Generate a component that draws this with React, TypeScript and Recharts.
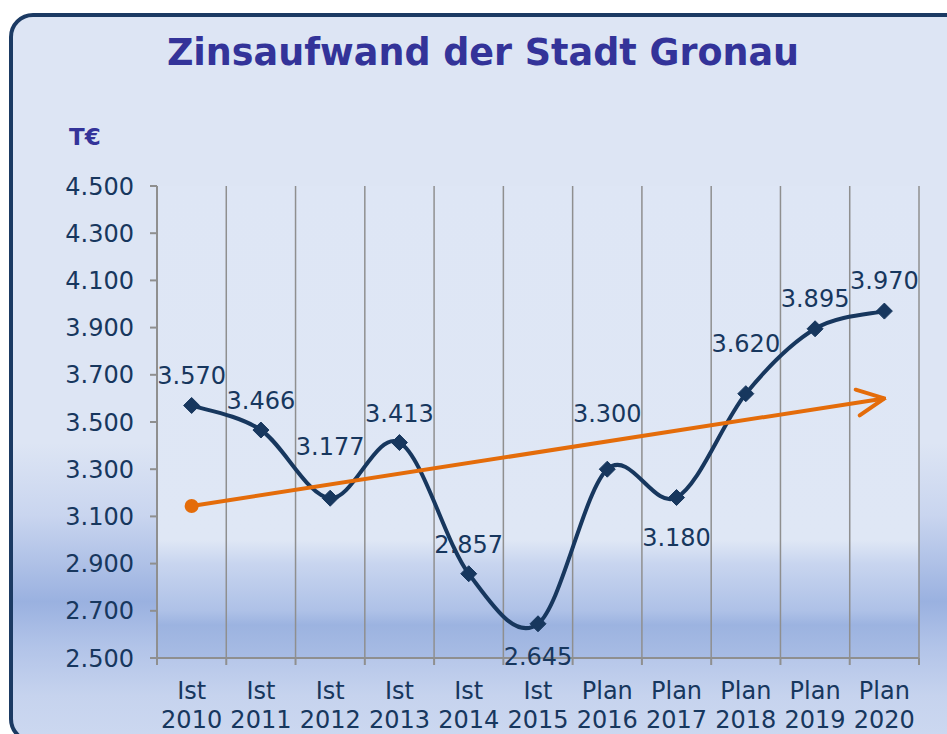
import { CartesianGrid, LabelList, Line, LineChart, XAxis, YAxis } from "recharts";

const CATEGORIES = [
  "Ist 2010", "Ist 2011", "Ist 2012", "Ist 2013", "Ist 2014", "Ist 2015",
  "Plan 2016", "Plan 2017", "Plan 2018", "Plan 2019", "Plan 2020",
];
const ZINSAUFWAND = [3570, 3466, 3177, 3413, 2857, 2645, 3300, 3180, 3620, 3895, 3970];
// linear trend, only the start and end are drawn
const TREND = [3144, null, null, null, null, null, null, null, null, null, 3600];
const Y_TICKS = [2500, 2700, 2900, 3100, 3300, 3500, 3700, 3900, 4100, 4300, 4500];

// vertical offset of each value label from its marker (style, not data)
const LABEL_DY = [-30, -30, -52, -29, -29, 33, -56, 40, -50, -30, -31];

const NAVY = "#17375e";
const ORANGE = "#e46c0a";
const GRID = "#8f8f8f";
const FONT = "'DejaVu Sans', Verdana, sans-serif";

const data = CATEGORIES.map((label, i) => ({
  label,
  value: ZINSAUFWAND[i],
  trend: TREND[i],
}));

const fmt = (v: number) => v.toLocaleString("de-DE");

// Excel-like smoothed line (catmull-rom as bezier)
const excelSmooth = (context: any) => {
  let pts: number[][] = [];
  return {
    areaStart() {},
    areaEnd() {},
    lineStart() {
      pts = [];
    },
    point(x: number, y: number) {
      pts.push([+x, +y]);
    },
    lineEnd() {
      if (!pts.length) return;
      context.moveTo(pts[0][0], pts[0][1]);
      for (let i = 0; i < pts.length - 1; i++) {
        const p0 = pts[Math.max(i - 1, 0)];
        const p1 = pts[i];
        const p2 = pts[i + 1];
        const p3 = pts[Math.min(i + 2, pts.length - 1)];
        context.bezierCurveTo(
          p1[0] + (p2[0] - p0[0]) / 6,
          p1[1] + (p2[1] - p0[1]) / 6,
          p2[0] - (p3[0] - p1[0]) / 6,
          p2[1] - (p3[1] - p1[1]) / 6,
          p2[0],
          p2[1]
        );
      }
    },
  };
};

function Diamond(props: any) {
  const { cx, cy, index } = props;
  if (cx == null || cy == null) return <g key={index} />;
  const r = 8;
  return (
    <polygon
      key={index}
      points={`${cx},${cy - r} ${cx + r},${cy} ${cx},${cy + r} ${cx - r},${cy}`}
      fill={NAVY}
      stroke={NAVY}
      strokeWidth={1}
    />
  );
}

function TrendDot(props: any) {
  const { cx, cy, index, value } = props;
  if (index !== 0 || value == null || cy == null) return <g key={index} />;
  return <circle key={index} cx={cx} cy={cy} r={7} fill={ORANGE} />;
}

function ValueLabel(props: any) {
  const { x, y, value, index } = props;
  return (
    <text x={x} y={y + LABEL_DY[index]} dy="0.36em" textAnchor="middle" fill={NAVY} fontSize={24} fontFamily={FONT}>
      {fmt(value)}
    </text>
  );
}

// two-line category label, plus the small tick marks between categories
function CategoryTick(props: any) {
  const { x, y, payload, index, visibleTicksCount } = props;
  const [kind, year] = String(payload.value).split(" ");
  const half = payload.offset || 0;
  const isLast = index === (visibleTicksCount ?? CATEGORIES.length) - 1;
  return (
    <g>
      {half > 0 && <line x1={x - half} x2={x - half} y1={y} y2={y + 7} stroke={GRID} strokeWidth={2} />}
      {half > 0 && isLast && <line x1={x + half} x2={x + half} y1={y} y2={y + 7} stroke={GRID} strokeWidth={2} />}
      <text x={x} y={y} textAnchor="middle" fill={NAVY} fontSize={24} fontFamily={FONT}>
        <tspan x={x} dy={41}>{kind}</tspan>
        <tspan x={x} dy={29}>{year}</tspan>
      </text>
    </g>
  );
}

// gridlines sit between the categories, like Excel's "between tick marks"
const boundaryLines = ({ offset }: any) =>
  CATEGORIES.map((_, i) => offset.left + (offset.width * (i + 1)) / CATEGORIES.length);

export default function App() {
  return (
    <div style={{ position: "absolute", left: 0, top: 0, width: 947, height: 734, overflow: "hidden", background: "#fff" }}>
      <div
        style={{
          position: "absolute",
          left: 9,
          top: 13,
          width: 960,
          height: 730,
          boxSizing: "border-box",
          border: "4px solid #1b3a63",
          borderRadius: 24,
          background:
            "linear-gradient(to bottom, #dde5f4 0%, #dde5f4 59%, #c9d5ef 69%, #9ab1e0 81%, #b1c3e8 87%, #c6d3ee 94%, #ccd8f0 100%)",
        }}
      />
      <svg width={947} height={734} style={{ position: "absolute", left: 0, top: 0 }}>
        <text x={483} y={65} textAnchor="middle" fill="#333399" fontSize={36.5} fontWeight="bold" fontFamily={FONT}>
          Zinsaufwand der Stadt Gronau
        </text>
        <text x={69} y={145} fill="#333399" fontSize={23} fontWeight="bold" fontFamily={FONT}>
          T€
        </text>
      </svg>
      <div style={{ position: "absolute", left: 0, top: 0 }}>
        <LineChart width={947} height={734} data={data} margin={{ top: 186, right: 28, bottom: 6, left: 60 }}>
          <defs>
            <linearGradient id="plotBg" x1="0" y1="0" x2="0" y2="1">
              <stop offset="0%" stopColor="#dee6f5" />
              <stop offset="75%" stopColor="#dfe7f5" />
              <stop offset="80%" stopColor="#c8d5ef" />
              <stop offset="90%" stopColor="#aec1e7" />
              <stop offset="93%" stopColor="#9cb3e0" />
              <stop offset="100%" stopColor="#a8bce4" />
            </linearGradient>
            <marker
              id="trendArrow"
              viewBox="0 0 32 32"
              refX={30}
              refY={16}
              markerWidth={32}
              markerHeight={32}
              markerUnits="userSpaceOnUse"
              orient="auto"
            >
              <path d="M3,3 L30,16 L3,29" fill="none" stroke={ORANGE} strokeWidth={4} strokeLinecap="round" strokeLinejoin="miter" />
            </marker>
          </defs>
          <CartesianGrid
            horizontal={false}
            verticalCoordinatesGenerator={boundaryLines}
            stroke={GRID}
            strokeWidth={1.5}
            fill="url(#plotBg)"
            fillOpacity={1}
          />
          <XAxis
            dataKey="label"
            scale="band"
            height={70}
            interval={0}
            axisLine={{ stroke: GRID, strokeWidth: 2 }}
            tickLine={false}
            tickSize={0}
            tickMargin={0}
            tick={<CategoryTick />}
          />
          <YAxis
            domain={[2500, 4500]}
            ticks={Y_TICKS}
            interval={0}
            width={97}
            tickSize={7}
            tickMargin={16}
            tickFormatter={fmt}
            axisLine={{ stroke: GRID, strokeWidth: 2 }}
            tickLine={{ stroke: GRID, strokeWidth: 2 }}
            tick={{ fill: NAVY, fontSize: 24, fontFamily: FONT }}
          />
          <Line
            dataKey="value"
            type={excelSmooth as any}
            stroke={NAVY}
            strokeWidth={4}
            dot={Diamond}
            activeDot={false}
            isAnimationActive={false}
          >
            <LabelList dataKey="value" content={ValueLabel} />
          </Line>
          <Line
            dataKey="trend"
            type="linear"
            connectNulls
            stroke={ORANGE}
            strokeWidth={4}
            markerEnd="url(#trendArrow)"
            dot={TrendDot}
            activeDot={false}
            isAnimationActive={false}
          />
        </LineChart>
      </div>
    </div>
  );
}
